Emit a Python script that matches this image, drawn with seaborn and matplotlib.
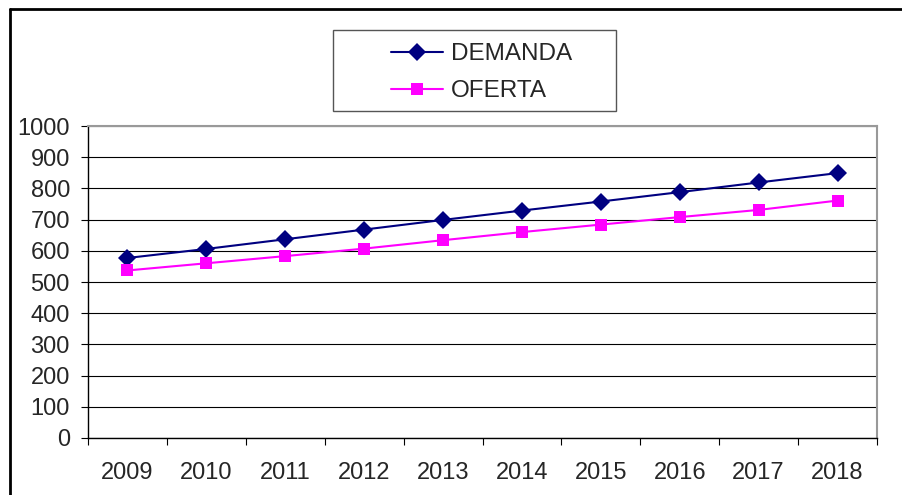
import numpy as np
import pandas as pd
import matplotlib
matplotlib.use("Agg")
import matplotlib.pyplot as plt
import seaborn as sns
from matplotlib.patches import Rectangle
from matplotlib.lines import Line2D

years = ["2009", "2010", "2011", "2012", "2013", "2014", "2015", "2016", "2017", "2018"]
demanda = [577, 606, 637, 668, 699, 729, 758, 788, 819, 849]
oferta = [537, 560, 583, 607, 634, 660, 684, 708, 731, 761]
y_ticks = [0, 100, 200, 300, 400, 500, 600, 700, 800, 900, 1000]

df = pd.DataFrame({"Year": years * 2,
                   "Value": demanda + oferta,
                   "Serie": ["DEMANDA"] * len(years) + ["OFERTA"] * len(years)})

sns.set_style("white")
plt.rcParams["font.family"] = ["Liberation Sans", "DejaVu Sans"]

fig = plt.figure(figsize=(9.02, 4.95), dpi=100)
ax = fig.add_axes([88 / 902, 1 - 438 / 495, (877 - 88) / 902, (438 - 126) / 495])

colors = {"DEMANDA": "#000080", "OFERTA": "#FF00FF"}
markers = {"DEMANDA": "D", "OFERTA": "s"}
sizes = {"DEMANDA": 9.5, "OFERTA": 8.5}
for serie in ["DEMANDA", "OFERTA"]:
    sub = df[df["Serie"] == serie]
    sns.lineplot(data=sub, x="Year", y="Value", ax=ax, color=colors[serie],
                 marker=markers[serie], markersize=sizes[serie], markeredgewidth=0,
                 linewidth=1.5, label=serie, sort=False)

ax.set_xlim(-0.5, len(years) - 0.5)
ax.set_ylim(0, 1000)
ax.set_yticks(y_ticks)
ax.set_xticks(range(len(years)))
ax.set_xticklabels(years)
ax.set_xticks(np.arange(-0.5, len(years), 1), minor=True)
ax.set_xlabel("")
ax.set_ylabel("")
ax.yaxis.grid(True, color="black", linewidth=0.8)
ax.xaxis.grid(False)
ax.tick_params(axis="y", which="major", direction="out", length=5, width=0.8,
               color="black", pad=8, labelsize=17, left=True)
ax.tick_params(axis="x", which="major", length=0, pad=17, labelsize=17)
ax.tick_params(axis="x", which="minor", direction="out", length=5, width=0.8,
               color="black", bottom=True)
for side in ["left", "bottom"]:
    ax.spines[side].set_color("black")
    ax.spines[side].set_linewidth(1.0)
for side in ["top", "right"]:
    ax.spines[side].set_color("#999999")
    ax.spines[side].set_linewidth(1.5)
ax.get_legend().remove()

# legend box
fig.patches.append(Rectangle((333 / 902, 1 - 111 / 495), (616 - 333) / 902, (111 - 30) / 495,
                             transform=fig.transFigure, fill=False, edgecolor="#555555",
                             linewidth=1.0))
handles = [Line2D([], [], color=colors[s], marker=markers[s], markersize=sizes[s],
                  markeredgewidth=0, linewidth=1.5) for s in ["DEMANDA", "OFERTA"]]
fig.legend(handles, ["DEMANDA", "OFERTA"], loc="upper left",
           bbox_to_anchor=(374 / 902, 1 - 26 / 495), frameon=False, fontsize=17.5,
           handlelength=2.15, handletextpad=0.3, labelspacing=0.63, borderpad=0.2)

# outer chart border
fig.lines.append(Line2D([10 / 902, 10 / 902], [0, 1 - 9 / 495], transform=fig.transFigure,
                        color="black", linewidth=2))
fig.lines.append(Line2D([10 / 902, 1], [1 - 9 / 495, 1 - 9 / 495], transform=fig.transFigure,
                        color="black", linewidth=2))

fig.savefig("out.png", dpi=100)
